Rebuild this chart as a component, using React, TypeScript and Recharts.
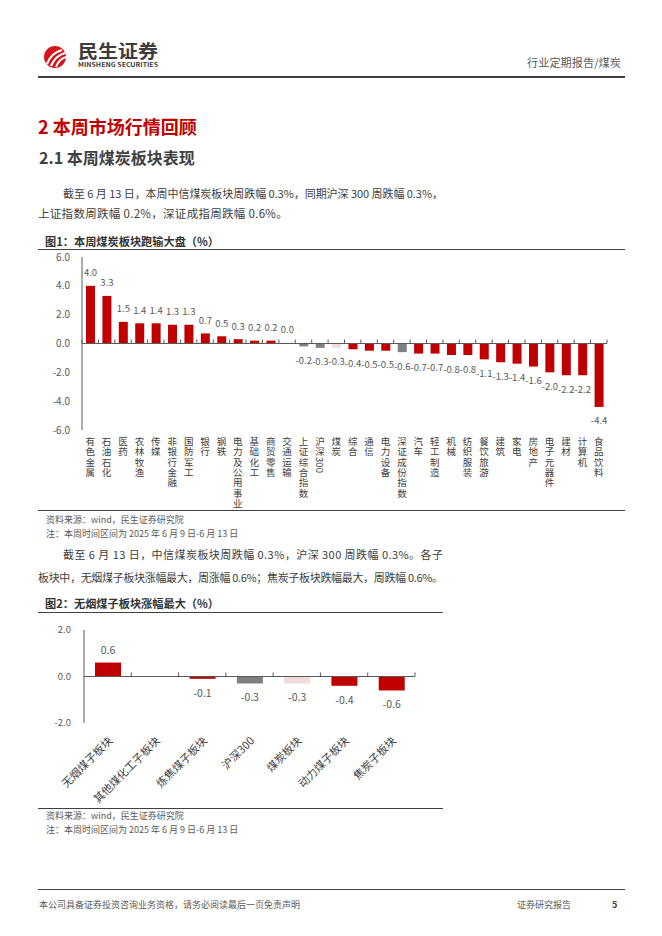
import React from 'react';
import { BarChart, Bar, XAxis, YAxis, Cell, LabelList, ReferenceLine } from 'recharts';

// 图1 数据
const sectors = [
  '有色金属', '石油石化', '医药', '农林牧渔', '传媒', '非银行金融', '国防军工', '银行',
  '钢铁', '电力及公用事业', '基础化工', '商贸零售', '交通运输', '上证综合指数', '沪深300', '煤炭',
  '综合', '通信', '电力设备', '深证成份指数', '汽车', '轻工制造', '机械', '纺织服装',
  '餐饮旅游', '建筑', '家电', '房地产', '电子元器件', '建材', '计算机', '食品饮料',
];
const sectorChange = [
  4.0, 3.3, 1.5, 1.4, 1.4, 1.3, 1.3, 0.7,
  0.5, 0.3, 0.2, 0.2, 0.04, -0.2, -0.3, -0.3,
  -0.4, -0.5, -0.5, -0.6, -0.7, -0.7, -0.8, -0.8,
  -1.1, -1.3, -1.4, -1.6, -2.0, -2.2, -2.2, -4.4,
];
const yTicks1 = [-6, -4, -2, 0, 2, 4, 6];

// 图2 数据
const subSectors = ['无烟煤子板块', '其他煤化工子板块', '炼焦煤子板块', '沪深300', '煤炭板块', '动力煤子板块', '焦炭子板块'];
const subChange = [0.6, 0.0, -0.1, -0.3, -0.3, -0.4, -0.6];
const yTicks2 = [-2, 0, 2];

const RED = '#C00000';
const GRAY = '#7F7F7F';
const PINK = '#F2DCDB';
const indexNames = ['上证综合指数', '深证成份指数', '沪深300'];
const coalNames = ['煤炭', '煤炭板块'];
const barColor = (name: string) =>
  indexNames.includes(name) ? GRAY : coalNames.includes(name) ? PINK : RED;

const FONT = '"Noto Sans CJK SC", "Noto Sans", sans-serif';

const data1 = sectors.map((name, i) => ({ name, value: sectorChange[i] }));
const data2 = subSectors.map((name, i) => ({ name, value: subChange[i] }));

// chart geometry
const C1 = { width: 600, height: 260, top: 7, right: 31, yw: 44, xh: 80 };
const PLOT1_W = C1.width - C1.right - C1.yw;
const PLOT1_H = C1.height - C1.top - C1.xh;
const C2 = { width: 410, height: 188, top: 10, right: 33, yw: 46, xh: 85 };
const PLOT2_W = C2.width - C2.right - C2.yw;
const PLOT2_H = C2.height - C2.top - C2.xh;

// split a label into single CJK chars and runs of ASCII (digits are turned sideways)
const splitRuns = (s: string) => s.match(/[\x00-\x7F]+|[^\x00-\x7F]/g) || [];

const VerticalTick = (props: any) => {
  const { x, y, payload, index } = props;
  const band = PLOT1_W / sectors.length;
  const zeroY = y - PLOT1_H / 2;
  const fs = 9.5;
  const step = 10.3;
  let cy = y + 6;
  const parts: React.ReactNode[] = [];
  splitRuns(String(payload.value)).forEach((run, i) => {
    if (/^[\x00-\x7F]+$/.test(run)) {
      const len = run.length * fs * 0.57;
      parts.push(
        <text key={i} x={x} y={cy + 0.5} transform={`rotate(90 ${x} ${cy + 0.5})`} dominantBaseline="central" fontSize={fs} fill="#404040" fontFamily={FONT}>
          {run}
        </text>
      );
      cy += len + 1;
    } else {
      parts.push(
        <text key={i} x={x} y={cy + step / 2} textAnchor="middle" dominantBaseline="central" fontSize={fs} fill="#404040" fontFamily={FONT}>
          {run}
        </text>
      );
      cy += step;
    }
  });
  return (
    <g>
      <line x1={x - band / 2} x2={x - band / 2} y1={zeroY} y2={zeroY - 4} stroke="#595959" strokeWidth={1} />
      {index === sectors.length - 1 && (
        <line x1={x + band / 2} x2={x + band / 2} y1={zeroY} y2={zeroY - 4} stroke="#595959" strokeWidth={1} />
      )}
      {parts}
    </g>
  );
};

const SlantTick = (props: any) => {
  const { x, y, payload, index } = props;
  const band = PLOT2_W / subSectors.length;
  const zeroY = y - PLOT2_H / 2;
  const ax = x + 2;
  const ay = y + 15;
  return (
    <g>
      {index > 0 && (
        <line x1={x - band / 2} x2={x - band / 2} y1={zeroY} y2={zeroY - 4} stroke="#595959" strokeWidth={1} />
      )}
      {index === subSectors.length - 1 && (
        <line x1={x + band / 2} x2={x + band / 2} y1={zeroY} y2={zeroY - 4} stroke="#595959" strokeWidth={1} />
      )}
      <text x={ax} y={ay} transform={`rotate(-45 ${ax} ${ay})`} textAnchor="end" dominantBaseline="central" fontSize={11} fill="#404040" fontFamily={FONT}>
        {payload.value}
      </text>
    </g>
  );
};

const valueLabel = (offset: number, fs: number) => (props: any) => {
  const { x, y, width, height, value } = props;
  const v = Number(value);
  const top = Math.min(y, y + height);
  const bottom = Math.max(y, y + height);
  const ly = v >= 0 ? top - offset : bottom + offset;
  return (
    <text x={x + width / 2} y={ly} textAnchor="middle" dominantBaseline="central" fontSize={fs} fill="#595959" fontFamily={FONT}>
      {v.toFixed(1)}
    </text>
  );
};

const abs = (left: number, top: number, extra: React.CSSProperties = {}): React.CSSProperties => ({
  position: 'absolute', left, top, whiteSpace: 'nowrap', lineHeight: 1, fontFamily: FONT, ...extra,
});

// full paragraph line, spread to the text block width
const JLine = ({ left, cy, width, text }: { left: number; cy: number; width: number; text: string }) => (
  <svg width={width + 4} height={18} style={{ position: 'absolute', left, top: cy - 9 }}>
    <text x={0} y={13} fontSize={11} fill="#404040" fontFamily={FONT} textLength={width} lengthAdjust="spacing">
      {text}
    </text>
  </svg>
);

const hline = (left: number, top: number, width: number, color = '#404040', h = 1): React.CSSProperties => ({
  position: 'absolute', left, top, width, height: h, background: color,
});

const Logo = () => (
  <svg width={140} height={44} style={{ position: 'absolute', left: 40, top: 36 }}>
    <circle cx={15} cy={21} r={11} fill="#D7141A" />
    <path d="M7 28 Q11 17 22 14" stroke="#fff" strokeWidth={2.2} fill="none" />
    <path d="M11 30 Q15 20 25 17" stroke="#fff" strokeWidth={2.2} fill="none" />
    <path d="M16 31 Q19 23 26 21" stroke="#fff" strokeWidth={2} fill="none" />
    <text x={38} y={22} fontSize={18} fontWeight={700} fill="#3C3C3C" fontFamily={FONT} textLength={80} lengthAdjust="spacingAndGlyphs">民生证券</text>
    <text x={38} y={31} fontSize={6.2} fontWeight={700} fill="#3C3C3C" fontFamily={FONT} textLength={80} lengthAdjust="spacingAndGlyphs">MINSHENG SECURITIES</text>
  </svg>
);

const App = () => {
  return (
    <div style={{ position: 'absolute', left: 0, top: 0, width: 662, height: 936, background: '#fff', fontFamily: FONT }}>
      <Logo />
      <div style={abs(527, 57, { fontSize: 11.2, color: '#595959' })}>行业定期报告/煤炭</div>
      <div style={hline(38, 76, 587, '#404040', 1.5)} />

      <div style={abs(38, 117, { fontSize: 18, fontWeight: 700, color: '#C00000' })}>2 本周市场行情回顾</div>
      <div style={abs(39, 149, { fontSize: 16, fontWeight: 700, color: '#404040' })}>2.1 本周煤炭板块表现</div>

      <JLine left={63} cy={194} width={380} text="截至 6 月 13 日，本周中信煤炭板块周跌幅 0.3%，同期沪深 300 周跌幅 0.3%，" />
      <div style={abs(38, 208, { fontSize: 11.5, letterSpacing: 0.3, color: '#404040' })}>上证指数周跌幅 0.2%，深证成指周跌幅 0.6%。</div>

      <div style={abs(45, 236, { fontSize: 11.2, fontWeight: 700, color: '#333' })}>图1：本周煤炭板块跑输大盘（%）</div>
      <div style={hline(38, 249, 587, '#404040', 1)} />

      <div style={{ position: 'absolute', left: 38, top: 250 }}>
        <BarChart width={C1.width} height={C1.height} data={data1} margin={{ top: C1.top, right: C1.right, left: 0, bottom: 0 }} barSize={9}>
          <XAxis dataKey="name" height={C1.xh} interval={0} axisLine={false} tickLine={false} tickSize={0} tickMargin={0} tick={<VerticalTick />} />
          <YAxis
            width={C1.yw}
            domain={[-6, 6]}
            ticks={yTicks1}
            tickFormatter={(v: number) => v.toFixed(1)}
            axisLine={{ stroke: '#595959' }}
            tickLine={false}
            tickSize={6}
            tickMargin={6}
            tick={{ fontSize: 10, fill: '#595959', fontFamily: FONT }}
            allowDataOverflow
          />
          <ReferenceLine y={0} stroke="#595959" strokeWidth={1} />
          <Bar dataKey="value" isAnimationActive={false}>
            {data1.map((d) => (
              <Cell key={d.name} fill={barColor(d.name)} />
            ))}
            <LabelList dataKey="value" content={valueLabel(13.5, 9.5)} />
          </Bar>
        </BarChart>
      </div>

      <div style={hline(38, 510, 587, '#404040', 1)} />
      <div style={abs(46, 515, { fontSize: 9, color: '#595959' })}>资料来源：wind，民生证券研究院</div>
      <div style={abs(46, 529, { fontSize: 9, color: '#595959' })}>注：本周时间区间为 2025 年 6 月 9 日-6 月 13 日</div>

      <JLine left={63} cy={555} width={380} text="截至 6 月 13 日，中信煤炭板块周跌幅 0.3%，沪深 300 周跌幅 0.3%。各子" />
      <JLine left={38} cy={578} width={405} text="板块中，无烟煤子板块涨幅最大，周涨幅 0.6%；焦炭子板块跌幅最大，周跌幅 0.6%。" />

      <div style={abs(45, 598, { fontSize: 11.2, fontWeight: 700, color: '#333' })}>图2：无烟煤子板块涨幅最大（%）</div>
      <div style={hline(38, 612, 405, '#404040', 1)} />

      <div style={{ position: 'absolute', left: 38, top: 620 }}>
        <BarChart width={C2.width} height={C2.height} data={data2} margin={{ top: C2.top, right: C2.right, left: 0, bottom: 0 }} barSize={26}>
          <XAxis dataKey="name" height={C2.xh} interval={0} axisLine={false} tickLine={false} tickSize={0} tickMargin={0} tick={<SlantTick />} />
          <YAxis
            width={C2.yw}
            domain={[-2, 2]}
            ticks={yTicks2}
            tickFormatter={(v: number) => v.toFixed(1)}
            axisLine={{ stroke: '#595959' }}
            tickLine={false}
            tickSize={6}
            tickMargin={7}
            tick={{ fontSize: 9.5, fill: '#595959', fontFamily: FONT }}
            allowDataOverflow
          />
          <ReferenceLine y={0} stroke="#595959" strokeWidth={1} />
          <Bar dataKey="value" isAnimationActive={false}>
            {data2.map((d) => (
              <Cell key={d.name} fill={barColor(d.name)} />
            ))}
            <LabelList dataKey="value" content={valueLabel(13.5, 10.5)} />
          </Bar>
        </BarChart>
      </div>

      <div style={hline(38, 808, 405, '#404040', 1)} />
      <div style={abs(46, 811, { fontSize: 9, color: '#595959' })}>资料来源：wind，民生证券研究院</div>
      <div style={abs(46, 825, { fontSize: 9, color: '#595959' })}>注：本周时间区间为 2025 年 6 月 9 日-6 月 13 日</div>

      <div style={hline(38, 889, 587, '#404040', 1.2)} />
      <div style={abs(39, 900, { fontSize: 9, color: '#595959' })}>本公司具备证券投资咨询业务资格，请务必阅读最后一页免责声明</div>
      <div style={abs(517, 900, { fontSize: 9, color: '#595959' })}>证券研究报告</div>
      <div style={abs(612, 900, { fontSize: 9, fontWeight: 700, color: '#404040' })}>5</div>
    </div>
  );
};

export default App;
